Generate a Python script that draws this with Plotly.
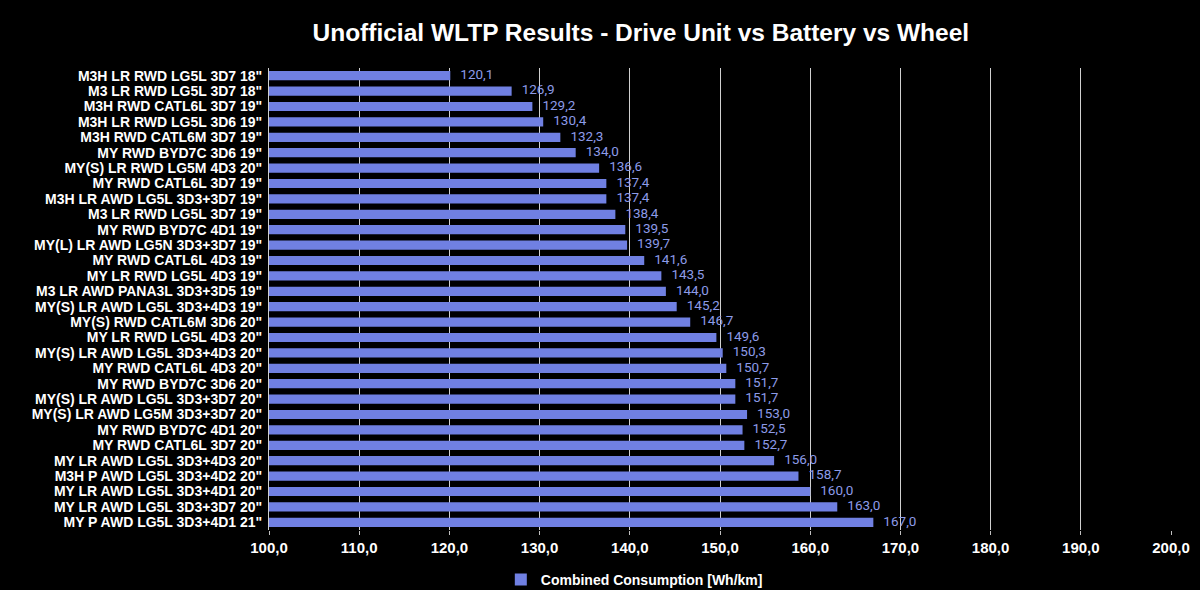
import plotly.graph_objects as go

categories = [
    'M3H LR RWD LG5L 3D7 18"',
    'M3 LR RWD LG5L 3D7 18"',
    'M3H RWD CATL6L 3D7 19"',
    'M3H LR RWD LG5L 3D6 19"',
    'M3H RWD CATL6M 3D7 19"',
    'MY RWD BYD7C 3D6 19"',
    'MY(S) LR RWD LG5M 4D3 20"',
    'MY RWD CATL6L 3D7 19"',
    'M3H LR AWD LG5L 3D3+3D7 19"',
    'M3 LR RWD LG5L 3D7 19"',
    'MY RWD BYD7C 4D1 19"',
    'MY(L) LR AWD LG5N 3D3+3D7 19"',
    'MY RWD CATL6L 4D3 19"',
    'MY LR RWD LG5L 4D3 19"',
    'M3 LR AWD PANA3L 3D3+3D5 19"',
    'MY(S) LR AWD LG5L 3D3+4D3 19"',
    'MY(S) RWD CATL6M 3D6 20"',
    'MY LR RWD LG5L 4D3 20"',
    'MY(S) LR AWD LG5L 3D3+4D3 20"',
    'MY RWD CATL6L 4D3 20"',
    'MY RWD BYD7C 3D6 20"',
    'MY(S) LR AWD LG5L 3D3+3D7 20"',
    'MY(S) LR AWD LG5M 3D3+3D7 20"',
    'MY RWD BYD7C 4D1 20"',
    'MY RWD CATL6L 3D7 20"',
    'MY LR AWD LG5L 3D3+4D3 20"',
    'M3H P AWD LG5L 3D3+4D2 20"',
    'MY LR AWD LG5L 3D3+4D1 20"',
    'MY LR AWD LG5L 3D3+3D7 20"',
    'MY P AWD LG5L 3D3+4D1 21"',
]
consumption = [120.1, 126.9, 129.2, 130.4, 132.3, 134.0, 136.6, 137.4, 137.4, 138.4,
               139.5, 139.7, 141.6, 143.5, 144.0, 145.2, 146.7, 149.6, 150.3, 150.7,
               151.7, 151.7, 153.0, 152.5, 152.7, 156.0, 158.7, 160.0, 163.0, 167.0]
tick_values = [100, 110, 120, 130, 140, 150, 160, 170, 180, 190, 200]

BAR = '#7080e2'
LABEL = '#8d9be8'
NBSP = '\u00a0'

fig = go.Figure()
fig.add_trace(go.Bar(
    y=categories, x=consumption, orientation='h',
    marker=dict(color=BAR, line=dict(width=0)),
    name='Combined Consumption [Wh/km]',
))
fig.add_trace(go.Scatter(
    y=categories, x=consumption, mode='text',
    text=[NBSP * 3 + f'{v:.1f}'.replace('.', ',') for v in consumption],
    textposition='middle right',
    textfont=dict(family='Roboto', size=13.5, color=LABEL),
    showlegend=False, cliponaxis=False, hoverinfo='skip',
))

fig.update_layout(
    width=1200, height=590,
    paper_bgcolor='black', plot_bgcolor='black',
    margin=dict(l=269, r=29, t=68, b=60, autoexpand=False),
    bargap=0.4,
    separators=', ',
    title=dict(text='Unofficial WLTP Results - Drive Unit vs Battery vs Wheel',
               x=0.534, xanchor='center', y=0.945, yanchor='middle',
               font=dict(family='Liberation Sans', size=24.5, color='white', weight='bold')),
    showlegend=True,
    legend=dict(orientation='h', x=0.257, xanchor='left',
                yref='container', y=0.017, yanchor='middle',
                font=dict(family='Liberation Sans', size=14, color='white', weight='bold'),
                bgcolor='rgba(0,0,0,0)'),
    xaxis=dict(range=[100, 200], tickvals=tick_values,
               ticktext=[f'{v:.1f}'.replace('.', ',') for v in tick_values],
               showgrid=True, gridcolor='#d0d0d0', gridwidth=1,
               ticks='outside', ticklen=4, tickcolor='#c0c0c0',
               zeroline=False, showline=False,
               tickfont=dict(family='Liberation Sans', size=15, color='white', weight='bold')),
    yaxis=dict(range=[len(categories) - 0.5, -0.5], autorange=False,
               showline=True, linecolor='#d0d0d0', linewidth=1,
               tickmode='array', tickvals=categories,
               ticks='', ticklabelstandoff=3,
               tickfont=dict(family='Liberation Sans', size=14, color='white', weight='bold')),
)

fig.write_html('out.html', config=dict(displayModeBar=False),
               post_script="document.body.style.margin='0';document.body.style.background='black';")
